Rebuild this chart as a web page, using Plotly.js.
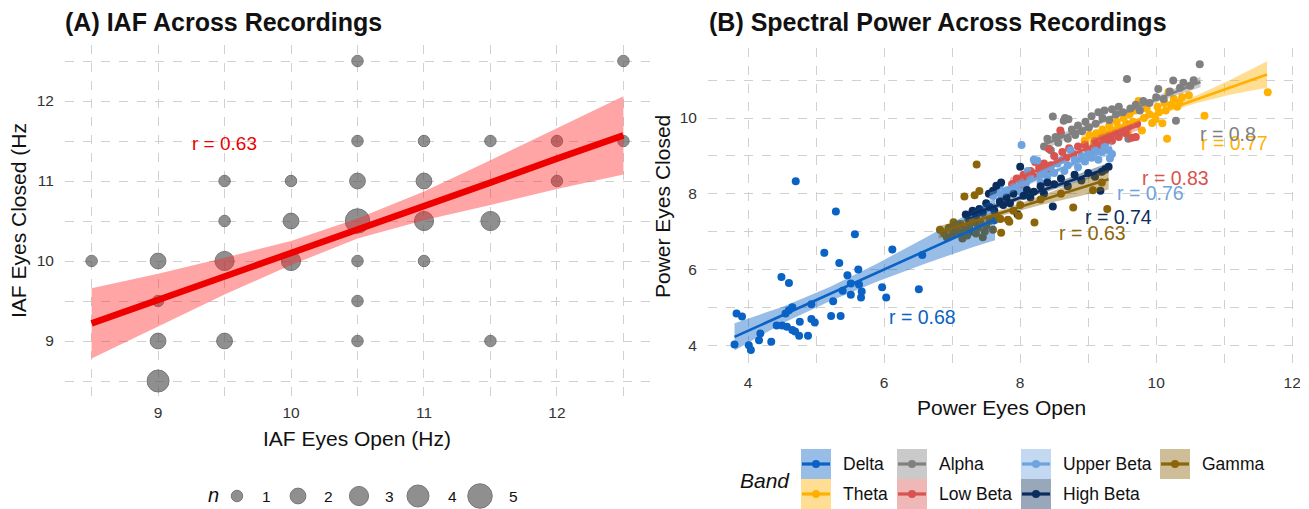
<!DOCTYPE html>
<html><head><meta charset="utf-8">
<script src="https://cdn.plot.ly/plotly-3.0.1.min.js"></script>
<style>html,body{margin:0;padding:0;background:#fff;}#chart{width:1309px;height:509px;}</style>
</head><body><div id="chart"></div>
<script>
// ---------- Panel A: IAF ----------
const iafOpen   = [8.5, 9, 9, 9, 9, 9.5, 9.5, 9.5, 9.5, 10, 10, 10, 10.5, 10.5, 10.5, 10.5, 10.5, 10.5, 10.5, 11, 11, 11, 11, 11.5, 11.5, 11.5, 12, 12, 12.5, 12.5];
const iafClosed = [10, 10, 9.5, 9, 8.5, 11, 10.5, 10, 9, 11, 10.5, 10, 12.5, 11.5, 11, 10.5, 10, 9.5, 9, 11.5, 11, 10.5, 10, 11.5, 10.5, 9, 11.5, 11, 12.5, 11.5];
const iafCount  = [1, 2, 1, 2, 4, 1, 1, 3, 2, 1, 2, 3, 1, 1, 2, 5, 1, 1, 1, 1, 2, 3, 1, 1, 3, 1, 1, 1, 1, 1];
const iafFitX   = [8.5, 9, 9.5, 10, 10.5, 11, 11.5, 12, 12.5];
const iafFitY   = [9.22, 9.51, 9.81, 10.10, 10.40, 10.69, 10.98, 11.28, 11.57];
const iafFitLo  = [8.78, 9.18, 9.58, 9.95, 10.28, 10.51, 10.70, 10.90, 11.08];
const iafFitHi  = [9.66, 9.84, 10.04, 10.25, 10.53, 10.87, 11.26, 11.66, 12.06];
const iafR = 'r = 0.63';
const sizeLevels = [1, 2, 3, 4, 5];

// ---------- Panel B: spectral power ----------
const bandNames = ['Delta', 'Theta', 'Alpha', 'Low Beta', 'Upper Beta', 'High Beta', 'Gamma'];
const bandR     = ['0.68', '0.77', '0.8', '0.83', '0.76', '0.74', '0.63'];

const deltaOpen   = [4.70,5.29,5.57,5.12,5.34,6.12,6.56,5.62,5.46,4.49,4.60,5.51,5.63,5.67,5.39,5.51,5.66,5.97,6.03,6.51,5.25,4.93,4.65,4.60,4.55,3.83,3.91,5.22,5.36,4.93,4.98,4.76,4.42,4.50,4.57,4.65,4.69,4.75,4.88,4.18,4.16,4.34,3.80,4.01,4.04,7.05,7.30,7.62];
const deltaClosed = [8.33,7.53,6.93,6.44,6.17,6.53,6.38,6.00,5.85,5.80,5.64,5.63,5.60,5.42,5.44,5.33,5.26,5.53,5.26,5.48,5.16,5.08,5.00,4.92,4.84,4.84,4.76,4.77,4.77,4.69,4.60,4.62,4.52,4.52,4.49,4.40,4.36,4.25,4.25,4.31,4.13,4.09,4.02,4.00,3.87,7.05,7.00,7.30];
const deltaFitX  = [3.8, 4.5, 5.2, 5.9, 6.6, 7.3, 7.63];
const deltaFitY  = [4.22, 4.79, 5.35, 5.92, 6.49, 7.06, 7.32];
const deltaFitLo = [3.86, 4.57, 5.16, 5.68, 6.15, 6.59, 6.77];
const deltaFitHi = [4.58, 5.01, 5.54, 6.16, 6.83, 7.53, 7.87];

const thetaOpen   = [8.95,9.02,9.08,9.12,9.18,9.21,9.27,9.31,9.36,9.42,9.44,9.52,9.56,9.61,9.66,9.69,9.74,9.79,9.82,9.86,9.90,9.94,9.99,10.02,10.04,10.09,10.12,10.14,10.16,10.18,10.22,10.26,10.31,10.38,10.48,10.71,11.64,9.23,9.58,10.34];
const thetaClosed = [9.40,9.55,9.35,9.60,9.50,9.70,9.55,9.80,9.65,9.90,9.75,10.00,9.85,10.10,9.90,10.20,10.45,9.67,10.00,10.25,10.10,9.87,9.97,10.30,10.15,9.86,10.40,10.20,9.45,10.69,10.35,10.50,10.30,10.55,10.60,10.06,10.68,9.30,9.60,10.40];
const thetaFitX  = [8.9, 9.5, 10.0, 10.6, 11.1, 11.63];
const thetaFitY  = [9.42, 9.80, 10.12, 10.50, 10.82, 11.15];
const thetaFitLo = [9.30, 9.73, 10.06, 10.40, 10.62, 10.80];
const thetaFitHi = [9.54, 9.87, 10.18, 10.60, 11.02, 11.50];

const alphaOpen   = [8.35,8.40,8.45,8.48,8.52,8.56,8.60,8.64,8.66,8.71,8.70,8.76,8.81,8.85,8.91,8.96,9.01,9.05,9.11,9.15,9.21,9.24,9.31,9.35,9.41,9.45,9.51,9.57,9.59,9.62,9.70,9.76,9.81,9.90,10.00,10.03,10.11,10.20,10.25,10.29,10.35,10.40,10.50,10.55,10.64];
const alphaClosed = [9.25,9.45,9.15,10.04,9.50,9.35,9.60,9.93,10.00,9.97,9.45,9.70,9.55,9.80,9.65,9.90,9.75,10.05,9.85,10.15,10.00,10.20,9.95,10.23,10.10,10.30,10.15,11.03,9.45,10.25,10.35,10.20,10.45,10.40,10.55,10.77,10.50,10.70,10.99,9.93,10.80,10.93,10.85,11.00,11.42];
const alphaFitX  = [8.35, 8.9, 9.5, 10.1, 10.65];
const alphaFitY  = [9.30, 9.70, 10.13, 10.56, 10.95];
const alphaFitLo = [9.16, 9.62, 10.07, 10.48, 10.81];
const alphaFitHi = [9.44, 9.78, 10.19, 10.64, 11.09];

const lowBetaOpen   = [7.88,7.95,8.00,8.05,8.10,8.15,8.20,8.22,8.28,8.30,8.35,8.42,8.45,8.50,8.55,8.59,8.62,8.68,8.72,8.78,8.85,8.90,8.95,9.00,9.04,9.10,9.15,9.20,9.25,9.30,9.35,9.40,9.45,9.50,9.55,9.60,9.64,9.70,9.72,8.40];
const lowBetaClosed = [8.25,8.40,8.20,8.50,8.35,8.60,8.45,8.84,8.70,8.55,8.80,9.19,8.75,9.00,8.85,9.67,9.10,8.95,9.20,9.05,9.25,8.95,9.30,9.15,8.98,9.40,9.25,9.50,9.35,9.55,9.40,9.62,9.50,9.70,9.60,9.80,9.48,9.50,9.85,8.60];
const lowBetaFitX  = [7.85, 8.3, 8.8, 9.3, 9.75];
const lowBetaFitY  = [8.30, 8.66, 9.06, 9.46, 9.82];
const lowBetaFitLo = [8.18, 8.59, 9.00, 9.38, 9.69];
const lowBetaFitHi = [8.42, 8.73, 9.12, 9.54, 9.95];

const upperBetaOpen   = [7.60,7.65,7.72,7.78,7.81,7.90,7.95,8.00,8.02,8.08,8.11,8.15,8.20,8.25,8.30,8.35,8.40,8.45,8.50,8.55,8.61,8.65,8.70,8.74,8.80,8.85,8.90,8.95,9.00,9.05,9.10,9.15,9.20,9.24,9.30,9.32,9.35,7.70,8.00,8.30];
const upperBetaClosed = [7.95,8.10,7.98,8.05,8.09,8.18,8.10,8.30,9.29,8.25,8.60,8.40,8.90,8.88,8.50,8.62,8.45,8.70,8.55,8.80,8.89,8.60,8.75,9.15,8.90,8.70,9.00,8.85,9.05,8.95,9.15,8.90,9.10,9.24,9.15,8.93,9.05,8.20,8.05,8.30];
const upperBetaFitX  = [7.55, 8.0, 8.5, 9.0, 9.35];
const upperBetaFitY  = [7.90, 8.22, 8.58, 8.95, 9.20];
const upperBetaFitLo = [7.77, 8.14, 8.52, 8.87, 9.02];
const upperBetaFitHi = [8.03, 8.30, 8.64, 9.03, 9.38];

const highBetaOpen   = [7.20,7.25,7.30,7.35,7.40,7.45,7.50,7.54,7.60,7.65,7.72,7.55,7.62,7.70,7.75,7.80,7.85,7.90,7.96,8.00,8.05,8.10,8.15,8.20,8.30,8.35,8.40,8.48,8.50,8.60,8.70,8.80,8.90,9.00,9.10,9.18,9.20,9.25,9.30,7.35];
const highBetaClosed = [7.45,7.30,7.55,7.40,7.60,7.50,7.75,8.00,8.08,8.21,8.30,7.65,7.55,7.80,7.70,7.90,7.75,8.00,7.46,8.71,7.95,8.10,7.90,8.05,8.20,8.00,8.30,7.66,8.25,8.40,8.20,8.50,8.35,8.55,8.45,8.08,8.58,8.65,8.71,7.25];
const highBetaFitX  = [7.17, 7.7, 8.2, 8.75, 9.3];
const highBetaFitY  = [7.39, 7.71, 8.01, 8.35, 8.68];
const highBetaFitLo = [7.27, 7.64, 7.95, 8.26, 8.54];
const highBetaFitHi = [7.51, 7.78, 8.07, 8.44, 8.82];

const gammaOpen   = [6.82,6.88,6.95,7.00,7.05,7.10,7.12,7.18,7.22,7.25,7.30,7.35,7.38,7.42,7.48,7.50,7.55,6.92,7.02,7.15,7.45,7.60,7.36,7.18,7.33,7.40,7.69,7.72,7.82,7.71,7.84,7.98,8.21,8.78,9.07,9.28,8.30,8.60,9.20,8.00,7.90];
const gammaClosed = [7.05,6.95,7.10,6.92,7.15,6.98,7.20,7.05,6.90,7.12,7.25,6.95,7.10,7.22,7.00,7.15,7.28,6.85,7.25,6.82,6.85,7.05,8.77,7.93,7.96,8.07,7.35,6.97,7.31,7.33,7.26,7.42,7.24,7.64,8.09,7.60,7.85,8.00,8.30,7.70,7.55];
const gammaFitX  = [6.8, 7.3, 7.8, 8.3, 8.8, 9.3];
const gammaFitY  = [6.98, 7.26, 7.54, 7.82, 8.10, 8.38];
const gammaFitLo = [6.81, 7.16, 7.46, 7.70, 7.91, 8.11];
const gammaFitHi = [7.15, 7.36, 7.62, 7.94, 8.29, 8.65];

// label positions (data coords) for r values
const rLabelX = [6.57, 11.15, 11.06, 10.28, 9.92, 9.45, 9.07];
const rLabelY = [4.75, 9.33, 9.57, 8.42, 8.03, 7.39, 6.95];

// ---------- styles ----------
const FONT = 'Liberation Sans, Arial, Helvetica, sans-serif';
const bandColor = {'Delta':'#0A62C4','Theta':'#FFB000','Alpha':'#808080','Low Beta':'#D9534F','Upper Beta':'#6FA3DE','High Beta':'#0B2D5E','Gamma':'#8B6508'};
const bandRGB = {'Delta':[10,98,196],'Theta':[255,176,0],'Alpha':[128,128,128],'Low Beta':[217,83,79],'Upper Beta':[111,163,222],'High Beta':[11,45,94],'Gamma':[139,101,8]};
const fillOf = n => { const c = bandRGB[n]; return `rgba(${c[0]},${c[1]},${c[2]},0.42)`; };
const sizeOfN = n => Math.sqrt(132 + (n - 1) * 117);
const IAF_FILL = 'rgba(88,88,88,0.95)';

const bands = [
  {name:'Delta', x:deltaOpen, y:deltaClosed, fx:deltaFitX, fy:deltaFitY, lo:deltaFitLo, hi:deltaFitHi},
  {name:'Theta', x:thetaOpen, y:thetaClosed, fx:thetaFitX, fy:thetaFitY, lo:thetaFitLo, hi:thetaFitHi},
  {name:'Alpha', x:alphaOpen, y:alphaClosed, fx:alphaFitX, fy:alphaFitY, lo:alphaFitLo, hi:alphaFitHi},
  {name:'Low Beta', x:lowBetaOpen, y:lowBetaClosed, fx:lowBetaFitX, fy:lowBetaFitY, lo:lowBetaFitLo, hi:lowBetaFitHi},
  {name:'Upper Beta', x:upperBetaOpen, y:upperBetaClosed, fx:upperBetaFitX, fy:upperBetaFitY, lo:upperBetaFitLo, hi:upperBetaFitHi},
  {name:'High Beta', x:highBetaOpen, y:highBetaClosed, fx:highBetaFitX, fy:highBetaFitY, lo:highBetaFitLo, hi:highBetaFitHi},
  {name:'Gamma', x:gammaOpen, y:gammaClosed, fx:gammaFitX, fy:gammaFitY, lo:gammaFitLo, hi:gammaFitHi}
];

const traces = [];
// Panel A points
traces.push({type:'scatter', mode:'markers', x:iafOpen, y:iafClosed, xaxis:'x', yaxis:'y', showlegend:false, hoverinfo:'skip',
  marker:{size:iafCount.map(sizeOfN), color:IAF_FILL, line:{color:'#3f3f3f', width:1}}});
// Panel A CI band
traces.push({type:'scatter', mode:'lines', x:iafFitX.concat(iafFitX.slice().reverse()), y:iafFitHi.concat(iafFitLo.slice().reverse()),
  xaxis:'x', yaxis:'y', fill:'toself', fillcolor:'rgba(255,40,40,0.42)', line:{width:0}, showlegend:false, hoverinfo:'skip'});
traces.push({type:'scatter', mode:'lines', x:iafFitX, y:iafFitY, xaxis:'x', yaxis:'y', line:{color:'#EE0000', width:6.5}, showlegend:false, hoverinfo:'skip'});

// Panel B points
bands.forEach(b => traces.push({type:'scatter', mode:'markers', x:b.x, y:b.y, xaxis:'x2', yaxis:'y2', showlegend:false, hoverinfo:'skip',
  marker:{size:8, color:bandColor[b.name]}}));
// Panel B bands & lines
bands.forEach(b => {
  traces.push({type:'scatter', mode:'lines', x:b.fx.concat(b.fx.slice().reverse()), y:b.hi.concat(b.lo.slice().reverse()),
    xaxis:'x2', yaxis:'y2', fill:'toself', fillcolor:fillOf(b.name), line:{width:0}, showlegend:false, hoverinfo:'skip'});
  traces.push({type:'scatter', mode:'lines', x:b.fx, y:b.fy, xaxis:'x2', yaxis:'y2', line:{color:bandColor[b.name], width:2.6}, showlegend:false, hoverinfo:'skip'});
});

// ---------- overlay pixel axis for legends/titles ----------
const legA_cx = [237, 298, 359, 418, 480];
const legA_lx = [266.5, 328.5, 389, 452, 513.5];
const legA_y = 496;
traces.push({type:'scatter', mode:'markers', x:legA_cx, y:legA_cx.map(() => legA_y), xaxis:'x3', yaxis:'y3', showlegend:false, hoverinfo:'skip',
  marker:{size:sizeLevels.map(sizeOfN), color:IAF_FILL, line:{color:'#3f3f3f', width:1}}, cliponaxis:false});

const annotations = [];
const shapes = [];
const px = (x, y, text, opts) => Object.assign({xref:'x3', yref:'y3', x:x, y:y, text:text, showarrow:false,
  font:{family:FONT, size:15, color:'#222'}}, opts || {});

// Titles
annotations.push(px(63, 22, '<b>(A) IAF Across Recordings</b>', {xanchor:'left', yanchor:'middle', font:{family:FONT, size:25, color:'#111'}}));
annotations.push(px(707, 22, '<b>(B) Spectral Power Across Recordings</b>', {xanchor:'left', yanchor:'middle', font:{family:FONT, size:25, color:'#111'}}));
// Axis titles
annotations.push(px(357, 438, 'IAF Eyes Open (Hz)', {xanchor:'center', yanchor:'middle', font:{family:FONT, size:21, color:'#111'}}));
annotations.push(px(18, 221, 'IAF Eyes Closed (Hz', {xanchor:'center', yanchor:'middle', textangle:-90, font:{family:FONT, size:21, color:'#111'}}));
annotations.push(px(1001, 407, 'Power Eyes Open', {xanchor:'center', yanchor:'middle', font:{family:FONT, size:21, color:'#111'}}));
annotations.push(px(662, 207, 'Power Eyes Closed', {xanchor:'center', yanchor:'middle', textangle:-90, font:{family:FONT, size:21, color:'#111'}}));

// r labels
annotations.push({xref:'x', yref:'y', x:9.5, y:11.47, text:iafR, showarrow:false, font:{family:FONT, size:19, color:'#EE0000'}});
bands.forEach((b, i) => annotations.push({xref:'x2', yref:'y2', x:rLabelX[i], y:rLabelY[i], text:'r = ' + bandR[i], showarrow:false,
  font:{family:FONT, size:19.5, color:bandColor[b.name]}}));

// Size legend (panel A)
annotations.push(px(213, 495, '<i>n</i>', {font:{family:FONT, size:20, color:'#111'}}));
sizeLevels.forEach((s, i) => annotations.push(px(legA_lx[i], legA_y, String(s), {font:{family:FONT, size:15.5, color:'#111'}})));

// Band legend (panel B)
annotations.push(px(765, 480, '<i>Band</i>', {font:{family:FONT, size:21, color:'#111'}}));
const legCols = [801, 897, 1021, 1160];
const legRows = [449, 479];
const legOrder = [['Delta','Theta'], ['Alpha','Low Beta'], ['Upper Beta','High Beta'], ['Gamma']];
legOrder.forEach((col, ci) => col.forEach((name, ri) => {
  const x0 = legCols[ci], y0 = legRows[ri], w = 30, h = 30, cy = y0 + h / 2;
  shapes.push({type:'rect', xref:'x3', yref:'y3', x0:x0, x1:x0 + w, y0:y0, y1:y0 + h, fillcolor:fillOf(name), line:{width:0}, layer:'above'});
  shapes.push({type:'line', xref:'x3', yref:'y3', x0:x0 + 1, x1:x0 + w - 1, y0:cy, y1:cy, line:{color:bandColor[name], width:3.2}, layer:'above'});
  shapes.push({type:'circle', xref:'x3', yref:'y3', x0:x0 + w / 2 - 4, x1:x0 + w / 2 + 4, y0:cy - 4, y1:cy + 4, fillcolor:bandColor[name], line:{width:0}, layer:'above'});
  annotations.push(px(x0 + w + 10, cy, name, {xanchor:'left', yanchor:'middle', font:{family:FONT, size:17.5, color:'#111'}}));
}));
// right-edge crop, as in the reference (clips the last tick label)
shapes.push({type:'rect', xref:'x3', yref:'y3', x0:1300, x1:1309, y0:370, y1:395, fillcolor:'#fff', line:{width:0}, layer:'above'});

const GRID = '#d0d0d0';
const tickFont = {family:FONT, size:15.5, color:'#333'};
const axCommon = {showline:false, zeroline:false, gridcolor:GRID, griddash:'dash', gridwidth:1, fixedrange:true,
  ticks:'outside', tickcolor:'rgba(0,0,0,0)', tickfont:tickFont};

const layout = {
  width:1309, height:509, margin:{l:0, r:0, t:0, b:0}, paper_bgcolor:'#fff', plot_bgcolor:'rgba(0,0,0,0)', showlegend:false,
  font:{family:FONT},
  xaxis: Object.assign({}, axCommon, {domain:[65/1309, 650/1309], anchor:'y', range:[8.3, 12.7], tickvals:[9,10,11,12], ticklen:1,
    minor:{tickvals:[8.5,9.5,10.5,11.5,12.5], showgrid:true, gridcolor:GRID, griddash:'dash', gridwidth:1}}),
  yaxis: Object.assign({}, axCommon, {domain:[1 - 397/509, 1 - 45/509], anchor:'x', range:[8.3, 12.7], tickvals:[9,10,11,12], ticklen:7,
    minor:{tickvals:[8.5,9.5,10.5,11.5,12.5], showgrid:true, gridcolor:GRID, griddash:'dash', gridwidth:1}}),
  xaxis2: Object.assign({}, axCommon, {domain:[708/1309, 1297/1309], anchor:'y2', range:[3.41, 12.07], tickvals:[4,6,8,10,12], ticklen:2,
    minor:{tickvals:[5,7,9,11], showgrid:true, gridcolor:GRID, griddash:'dash', gridwidth:1}}),
  yaxis2: Object.assign({}, axCommon, {domain:[1 - 366/509, 1 - 48/509], anchor:'x2', range:[3.45, 11.85], tickvals:[4,6,8,10], ticklen:7,
    minor:{tickvals:[5,7,9,11], showgrid:true, gridcolor:GRID, griddash:'dash', gridwidth:1}}),
  xaxis3: {domain:[0,1], range:[0,1309], anchor:'y3', visible:false, showgrid:false, zeroline:false, fixedrange:true},
  yaxis3: {domain:[0,1], range:[509,0], anchor:'x3', visible:false, showgrid:false, zeroline:false, fixedrange:true},
  annotations: annotations,
  shapes: shapes
};

Plotly.newPlot('chart', traces, layout, {staticPlot:true, displayModeBar:false});
</script></body></html>
